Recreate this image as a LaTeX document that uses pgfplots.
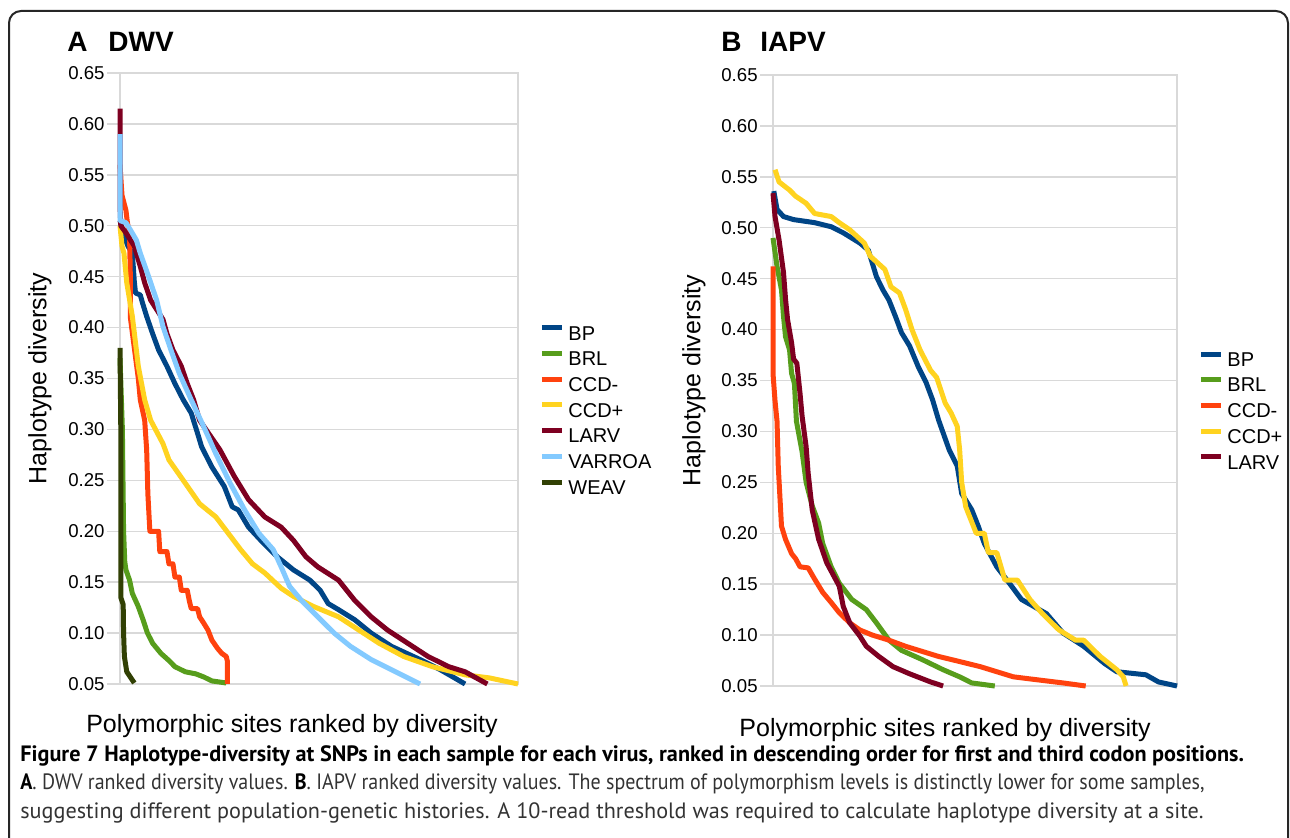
\documentclass[border=0pt]{standalone}
\usepackage{fontspec}
\setmainfont{Liberation Sans}
\newfontfamily\capfont{PT Sans}
\usepackage{graphicx}
\usepackage{pgfplots}
\pgfplotsset{compat=1.18}

\definecolor{cBP}{HTML}{004586}
\definecolor{cBRL}{HTML}{579D1C}
\definecolor{cCCDm}{HTML}{FF420E}
\definecolor{cCCDp}{HTML}{FFD320}
\definecolor{cLARV}{HTML}{7E0021}
\definecolor{cVARROA}{HTML}{83CAFF}
\definecolor{cWEAV}{HTML}{314004}
\definecolor{gridgray}{HTML}{D9D9D9}

\pgfplotsset{
  panel/.style={
    scale only axis, height=305.5pt,
    xmin=0, xmax=100, ymin=0.05, ymax=0.65,
    xtick=\empty,
    ytick={0.05,0.10,0.15,0.20,0.25,0.30,0.35,0.40,0.45,0.50,0.55,0.60,0.65},
    ymajorgrids, grid style={draw=gridgray, line width=0.7pt},
    axis line style={draw=gridgray, line width=0.7pt},
    tick align=outside, ytick pos=left, major tick length=6.5pt,
    tick style={draw=gridgray, line width=0.7pt},
    yticklabel style={font=\fontsize{9.3}{10}\selectfont, inner sep=1pt,
      /pgf/number format/fixed, /pgf/number format/fixed zerofill,
      /pgf/number format/precision=2, /pgf/number format/assume math mode=true},
    xlabel={Polymorphic sites ranked by diversity},
    ylabel={Haplotype diversity},
    label style={font=\fontsize{12.5}{14}\selectfont},
    ylabel style={anchor=center, rotate=0},
    legend cell align=left,
    legend style={draw=none, fill=none, inner sep=0pt, row sep=3.5pt,
      column sep=2pt, font=\fontsize{10}{12}\selectfont,
      nodes={inner sep=0pt, text height=7pt, text depth=2pt}},
    legend image code/.code={\draw[##1, line width=2.5pt] (0pt,3.6pt) -- (10pt,3.6pt);},
    every axis plot/.append style={line width=2.5pt, line join=round},
    clip=false,
  }
}

\begin{document}
\begin{tikzpicture}
\useasboundingbox (0,0) rectangle (645pt,-419pt);
\clip (0,0) rectangle (645pt,-419pt);

% frame
\draw[line width=1pt, black!85, rounded corners=6pt]
  (4.5pt,-440pt) -- (4.5pt,-5.5pt) -- (644pt,-5.5pt) -- (644pt,-440pt);

% panel titles
\node[anchor=base west, inner sep=0pt, font=\fontsize{14}{16}\selectfont\bfseries] at (33.5pt,-26pt) {A};
\node[anchor=base west, inner sep=0pt, font=\fontsize{14}{16}\selectfont\bfseries] at (54pt,-26pt) {DWV};
\node[anchor=base west, inner sep=0pt, font=\fontsize{14}{16}\selectfont\bfseries] at (360.5pt,-26pt) {B};
\node[anchor=base west, inner sep=0pt, font=\fontsize{14}{16}\selectfont\bfseries] at (380pt,-26pt) {IAPV};

% ---------------- A: DWV ----------------
\begin{axis}[panel, width=199pt, at={(60pt,-342pt)}, anchor=south west,
  xlabel style={at={(axis description cs:0.432,0)}, anchor=base, yshift=-24pt},
  ylabel style={at={(axis description cs:-0.201,0.5)}},
  legend style={at={(axis description cs:1.0528,0.5876)}, anchor=north west}]
\addplot[cBP] coordinates {(0,0.505) (1.0,0.49) (2.0,0.48) (3.1,0.473) (3.6,0.445) (3.9,0.434) (5.1,0.432) (5.6,0.425) (6.7,0.411) (8.2,0.394) (9.7,0.378) (11.8,0.362) (13.8,0.345) (15.9,0.329) (17.9,0.316) (19.5,0.296) (20.5,0.283) (23.1,0.263) (26.2,0.244) (28.2,0.224) (29.7,0.221) (32.3,0.204) (35.4,0.191) (39.5,0.175) (43.6,0.162) (47.7,0.152) (50.3,0.142) (52.3,0.129) (54.9,0.123) (59.0,0.113) (63.1,0.100) (68.2,0.087) (75.4,0.074) (80.5,0.064) (83.6,0.057) (86.7,0.050)};
\addlegendentry{BP}
\addplot[cBRL] coordinates {(0,0.37) (0.6,0.30) (0.9,0.20) (1.2,0.17) (1.5,0.162) (2.4,0.152) (3.1,0.139) (4.6,0.126) (5.8,0.113) (6.9,0.100) (8.2,0.090) (10.3,0.080) (12.3,0.073) (13.8,0.067) (16.4,0.062) (19.0,0.060) (21.0,0.057) (23.1,0.053) (26.7,0.051)};
\addlegendentry{BRL}
\addplot[cCCDm] coordinates {(0,0.56) (0.5,0.53) (1.5,0.515) (1.8,0.505) (2.4,0.49) (2.6,0.45) (2.6,0.41) (3.6,0.38) (4.6,0.35) (5.1,0.329) (6.2,0.309) (6.7,0.28) (7.0,0.237) (7.5,0.200) (9.7,0.200) (10.0,0.180) (11.8,0.180) (12.3,0.168) (13.3,0.168) (13.8,0.155) (14.9,0.155) (15.4,0.142) (16.9,0.142) (17.4,0.132) (17.9,0.124) (19.5,0.124) (20.0,0.116) (21.0,0.110) (22.1,0.103) (23.1,0.093) (24.5,0.085) (25.6,0.080) (26.7,0.077) (27.0,0.072) (27.0,0.050)};
\addlegendentry{CCD-}
\addplot[cCCDp] coordinates {(0,0.50) (0.5,0.48) (1.0,0.473) (1.7,0.444) (3.1,0.411) (4.6,0.362) (6.2,0.329) (7.7,0.309) (10.8,0.286) (12.3,0.270) (15.9,0.250) (20.0,0.227) (24.1,0.214) (27.2,0.198) (30.3,0.182) (33.3,0.168) (36.4,0.159) (40.5,0.144) (43.6,0.136) (48.7,0.126) (54.9,0.116) (60.0,0.103) (65.1,0.090) (71.3,0.077) (78.5,0.067) (86.7,0.059) (92.8,0.056) (100,0.050)};
\addlegendentry{CCD+}
\addplot[cLARV] coordinates {(0,0.615) (0,0.52) (0.2,0.50) (1.5,0.493) (3.6,0.48) (5.1,0.46) (6.2,0.444) (7.7,0.427) (10.8,0.408) (11.8,0.394) (13.3,0.378) (15.4,0.362) (16.9,0.345) (18.5,0.329) (20.0,0.309) (25.1,0.280) (28.7,0.254) (32.3,0.231) (36.4,0.214) (40.5,0.204) (43.6,0.191) (46.7,0.175) (49.7,0.165) (54.9,0.152) (59.0,0.132) (63.1,0.116) (67.2,0.103) (72.3,0.090) (77.4,0.077) (82.6,0.067) (86.7,0.062) (92.3,0.050)};
\addlegendentry{LARV}
\addplot[cVARROA] coordinates {(0,0.59) (0,0.505) (1.5,0.503) (2.6,0.496) (4.1,0.486) (5.1,0.473) (7.2,0.45) (9.2,0.427) (10.8,0.401) (12.8,0.378) (14.9,0.355) (17.9,0.329) (21.0,0.303) (24.1,0.276) (27.7,0.247) (31.3,0.221) (34.9,0.198) (38.5,0.182) (40.5,0.165) (42.6,0.146) (45.6,0.132) (49.7,0.116) (53.8,0.100) (57.9,0.087) (63.1,0.074) (68.2,0.064) (75.4,0.050)};
\addlegendentry{VARROA}
\addplot[cWEAV] coordinates {(0,0.38) (0.2,0.30) (0.2,0.20) (0.2,0.135) (0.8,0.128) (0.9,0.100) (1.1,0.077) (1.7,0.062) (3.6,0.051)};
\addlegendentry{WEAV}
\end{axis}

% ---------------- B: IAPV ----------------
\begin{axis}[panel, width=202pt, at={(386.5pt,-343pt)}, anchor=south west,
  xlabel style={at={(axis description cs:0.426,0)}, anchor=base, yshift=-25pt},
  ylabel style={at={(axis description cs:-0.196,0.5)}},
  legend style={at={(axis description cs:1.052,0.548)}, anchor=north west}]
\addplot[cBP] coordinates {(0.2,0.536) (1.0,0.518) (2.6,0.511) (5.1,0.508) (10.3,0.505) (14.4,0.501) (17.4,0.495) (21.5,0.485) (23.6,0.478) (24.6,0.465) (25.6,0.452) (27.2,0.439) (28.7,0.429) (30.3,0.413) (31.8,0.397) (33.8,0.384) (35.9,0.364) (37.9,0.348) (39.5,0.331) (41.0,0.311) (43.6,0.282) (45.6,0.266) (46.7,0.239) (49.2,0.223) (50.8,0.207) (52.3,0.190) (55.4,0.167) (58.5,0.151) (61.5,0.135) (67.7,0.121) (71.8,0.102) (76.9,0.089) (82.1,0.072) (85.1,0.064) (92.3,0.061) (95.4,0.054) (100,0.050)};
\addlegendentry{BP}
\addplot[cBRL] coordinates {(0,0.49) (1.0,0.462) (2.1,0.439) (2.6,0.413) (3.1,0.393) (4.1,0.38) (4.6,0.357) (5.3,0.347) (5.8,0.31) (7.2,0.28) (8.2,0.25) (9.7,0.227) (11.3,0.21) (12.3,0.19) (14.4,0.167) (16.4,0.151) (19.5,0.135) (23.1,0.125) (25.6,0.112) (28.7,0.095) (31.8,0.085) (36.9,0.076) (42.1,0.066) (46.2,0.059) (49.2,0.053) (54.9,0.050)};
\addlegendentry{BRL}
\addplot[cCCDm] coordinates {(0,0.462) (0,0.357) (0.5,0.33) (1.0,0.31) (1.3,0.266) (2.1,0.207) (3.1,0.194) (4.6,0.180) (5.6,0.175) (6.7,0.167) (8.7,0.166) (10.3,0.155) (12.3,0.142) (14.4,0.132) (16.4,0.122) (19.0,0.112) (21.5,0.105) (24.6,0.100) (28.7,0.095) (32.8,0.089) (36.9,0.084) (41.0,0.079) (46.2,0.074) (51.3,0.069) (55.4,0.064) (59.5,0.059) (65.6,0.056) (71.8,0.053) (77.4,0.050)};
\addlegendentry{CCD-}
\addplot[cCCDp] coordinates {(0.5,0.557) (1.5,0.545) (4.1,0.537) (5.6,0.531) (8.2,0.524) (10.3,0.514) (14.4,0.511) (16.4,0.505) (19.0,0.498) (22.6,0.485) (24.1,0.472) (27.7,0.459) (29.2,0.442) (31.3,0.436) (32.8,0.42) (34.4,0.40) (36.4,0.38) (39.0,0.36) (40.5,0.353) (42.6,0.328) (44.1,0.318) (45.6,0.305) (46.2,0.282) (46.7,0.25) (47.7,0.226) (50.3,0.200) (52.3,0.200) (53.3,0.181) (55.4,0.181) (57.4,0.154) (60.5,0.154) (63.6,0.135) (66.7,0.121) (70.8,0.105) (74.9,0.095) (76.9,0.095) (81.0,0.079) (85.1,0.066) (86.7,0.059) (87.4,0.050)};
\addlegendentry{CCD+}
\addplot[cLARV] coordinates {(0,0.534) (0.5,0.511) (1.5,0.488) (2.6,0.456) (3.1,0.43) (3.6,0.41) (4.6,0.387) (5.1,0.371) (5.9,0.367) (6.7,0.337) (7.2,0.315) (8.2,0.285) (8.7,0.259) (9.7,0.223) (11.3,0.194) (13.3,0.171) (16.4,0.148) (17.4,0.128) (19.0,0.112) (21.5,0.099) (23.1,0.089) (26.2,0.079) (29.7,0.069) (33.8,0.062) (39.0,0.054) (42.1,0.050)};
\addlegendentry{LARV}
\end{axis}

% caption
\node[anchor=base west, inner sep=0pt, font=\capfont\bfseries\fontsize{11.1}{13}\selectfont] at (10pt,-381pt)
  {Figure 7 Haplotype-diversity at SNPs in each sample for each virus, ranked in descending order for first and third codon positions.};
\node[anchor=base west, inner sep=0pt, text=black!80, font=\capfont\fontsize{11.1}{13}\selectfont] at (10pt,-395pt)
  {\scalebox{0.9}[1]{{\color{black}\bfseries A}. DWV ranked diversity values. {\color{black}\bfseries B}. IAPV ranked diversity values. The spectrum of polymorphism levels is distinctly lower for some samples,}};
\node[anchor=base west, inner sep=0pt, text=black!80, font=\capfont\fontsize{11.1}{13}\selectfont] at (10pt,-409pt)
  {suggesting different population-genetic histories. A 10-read threshold was required to calculate haplotype diversity at a site.};
\end{tikzpicture}
\end{document}
